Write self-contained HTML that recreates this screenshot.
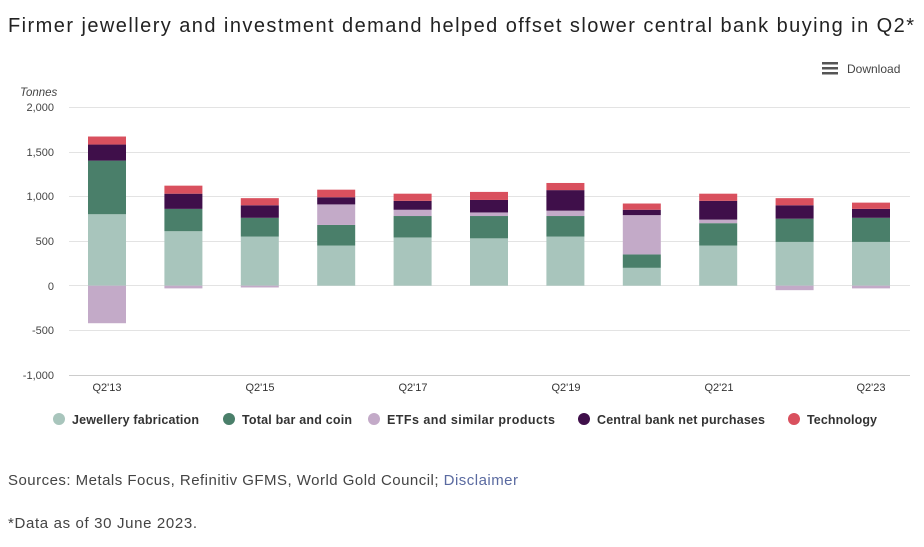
<!DOCTYPE html>
<html><head><meta charset="utf-8"><style>
body{margin:0;background:#fff;font-family:"Liberation Sans",sans-serif;}
</style></head><body>
<svg width="924" height="542" xmlns="http://www.w3.org/2000/svg" font-family="Liberation Sans, sans-serif">
<text x="8" y="32" font-size="20" fill="#222" textLength="906">Firmer jewellery and investment demand helped offset slower central bank buying in Q2*</text>
<g fill="#555"><rect x="822" y="62" width="16" height="2.5"/><rect x="822" y="67" width="16" height="2.5"/><rect x="822" y="72" width="16" height="2.5"/></g>
<text x="847" y="73" font-size="12" fill="#444">Download</text>
<text x="20" y="96" font-size="11.5" font-style="italic" fill="#444">Tonnes</text>
<g font-size="11" fill="#444" text-anchor="end">
<text x="54" y="111">2,000</text><text x="54" y="156">1,500</text><text x="54" y="200">1,000</text>
<text x="54" y="245">500</text><text x="54" y="290">0</text><text x="54" y="334">-500</text><text x="54" y="379">-1,000</text>
</g>
<g stroke="#e3e3e3" stroke-width="1">
<line x1="69" x2="910" y1="107.5" y2="107.5"/><line x1="69" x2="910" y1="152.5" y2="152.5"/>
<line x1="69" x2="910" y1="196.5" y2="196.5"/><line x1="69" x2="910" y1="241.5" y2="241.5"/>
<line x1="69" x2="910" y1="285.5" y2="285.5"/><line x1="69" x2="910" y1="330.5" y2="330.5"/>
</g>
<line x1="69" x2="910" y1="375.5" y2="375.5" stroke="#ccc"/>
<g transform="translate(0,285.7) scale(1,-0.08933)">
<g fill="#a8c5bc">
<rect x="88" y="0" width="38" height="800"/><rect x="164.4" y="0" width="38" height="610"/><rect x="240.8" y="0" width="38" height="550"/><rect x="317.2" y="0" width="38" height="450"/><rect x="393.6" y="0" width="38" height="540"/><rect x="470" y="0" width="38" height="530"/><rect x="546.4" y="0" width="38" height="550"/><rect x="622.8" y="0" width="38" height="200"/><rect x="699.2" y="0" width="38" height="450"/><rect x="775.6" y="0" width="38" height="490"/><rect x="852" y="0" width="38" height="490"/>
</g>
<g fill="#4a7f6a">
<rect x="88" y="800" width="38" height="600"/><rect x="164.4" y="610" width="38" height="250"/><rect x="240.8" y="550" width="38" height="210"/><rect x="317.2" y="450" width="38" height="230"/><rect x="393.6" y="540" width="38" height="240"/><rect x="470" y="530" width="38" height="250"/><rect x="546.4" y="550" width="38" height="230"/><rect x="622.8" y="200" width="38" height="150"/><rect x="699.2" y="450" width="38" height="250"/><rect x="775.6" y="490" width="38" height="260"/><rect x="852" y="490" width="38" height="270"/>
</g>
<g fill="#c3aac8">
<rect x="88" y="-420" width="38" height="420"/><rect x="164.4" y="-30" width="38" height="30"/><rect x="240.8" y="-20" width="38" height="20"/><rect x="317.2" y="680" width="38" height="230"/><rect x="393.6" y="780" width="38" height="70"/><rect x="470" y="780" width="38" height="40"/><rect x="546.4" y="780" width="38" height="60"/><rect x="622.8" y="350" width="38" height="440"/><rect x="699.2" y="700" width="38" height="40"/><rect x="775.6" y="-50" width="38" height="50"/><rect x="852" y="-30" width="38" height="30"/>
</g>
<g fill="#3f0f4a">
<rect x="88" y="1400" width="38" height="180"/><rect x="164.4" y="860" width="38" height="170"/><rect x="240.8" y="760" width="38" height="140"/><rect x="317.2" y="910" width="38" height="80"/><rect x="393.6" y="850" width="38" height="100"/><rect x="470" y="820" width="38" height="140"/><rect x="546.4" y="840" width="38" height="230"/><rect x="622.8" y="790" width="38" height="60"/><rect x="699.2" y="740" width="38" height="210"/><rect x="775.6" y="750" width="38" height="150"/><rect x="852" y="760" width="38" height="100"/>
</g>
<g fill="#d9505e">
<rect x="88" y="1580" width="38" height="90"/><rect x="164.4" y="1030" width="38" height="90"/><rect x="240.8" y="900" width="38" height="80"/><rect x="317.2" y="990" width="38" height="85"/><rect x="393.6" y="950" width="38" height="80"/><rect x="470" y="960" width="38" height="90"/><rect x="546.4" y="1070" width="38" height="80"/><rect x="622.8" y="850" width="38" height="70"/><rect x="699.2" y="950" width="38" height="80"/><rect x="775.6" y="900" width="38" height="80"/><rect x="852" y="860" width="38" height="70"/>
</g>
</g>
<g font-size="11" fill="#333" text-anchor="middle">
<text x="107" y="391">Q2'13</text><text x="260" y="391">Q2'15</text><text x="413" y="391">Q2'17</text>
<text x="566" y="391">Q2'19</text><text x="719" y="391">Q2'21</text><text x="871" y="391">Q2'23</text>
</g>
<g font-size="12.5" font-weight="bold" fill="#333">
<circle cx="59" cy="419" r="6" fill="#a8c5bc"/><text x="72" y="424" textLength="127">Jewellery fabrication</text>
<circle cx="229" cy="419" r="6" fill="#4a7f6a"/><text x="242" y="424" textLength="110">Total bar and coin</text>
<circle cx="374" cy="419" r="6" fill="#c3aac8"/><text x="387" y="424" textLength="168">ETFs and similar products</text>
<circle cx="584" cy="419" r="6" fill="#3f0f4a"/><text x="597" y="424" textLength="168">Central bank net purchases</text>
<circle cx="794" cy="419" r="6" fill="#d9505e"/><text x="807" y="424" textLength="70">Technology</text>
</g>
<text x="8" y="485" font-size="15" fill="#444" textLength="510">Sources: Metals Focus, Refinitiv GFMS, World Gold Council; <tspan fill="#5a6aa0">Disclaimer</tspan></text>
<text x="8" y="528" font-size="15" fill="#444" textLength="189">*Data as of 30 June 2023.</text>
</svg>
</body></html>
